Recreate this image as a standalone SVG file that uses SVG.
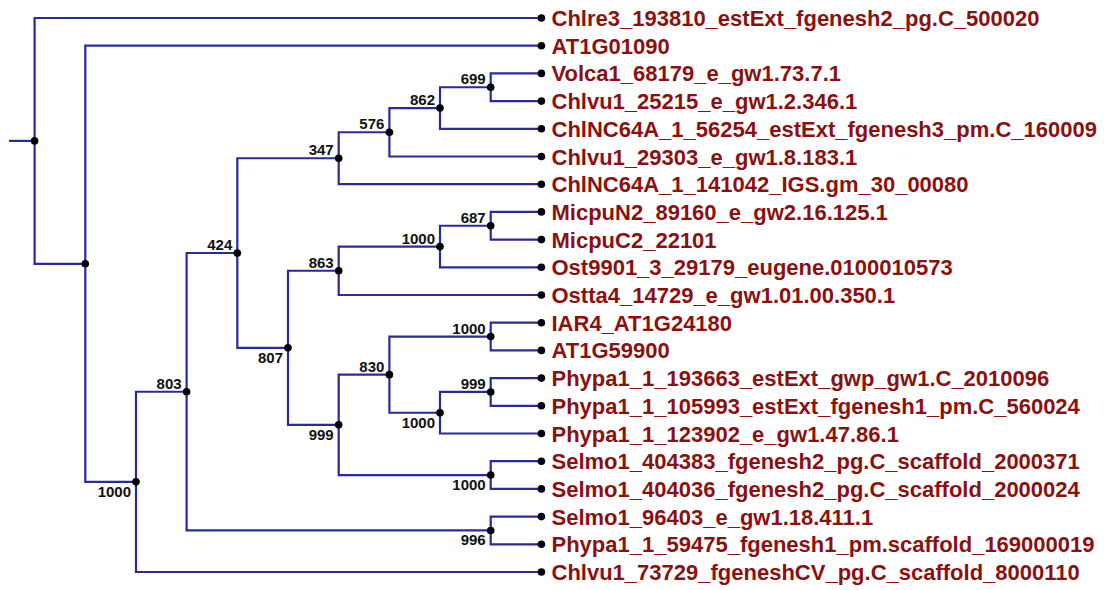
<svg xmlns="http://www.w3.org/2000/svg" width="1107" height="590" viewBox="0 0 1107 590">
<style>
.e{fill:none;stroke:#2a2a9c;stroke-width:2.2;stroke-linejoin:miter}
.d{fill:#000}
.lf{font-family:"Liberation Sans",Arial,sans-serif;font-weight:bold;font-size:22px;fill:#8b1111}
.bs{font-family:"Liberation Sans",Arial,sans-serif;font-weight:bold;font-size:15px;fill:#111;text-anchor:end}
</style>
<rect width="1107" height="590" fill="#fff"/>
<g id="connectors">
<path class="e" d="M9 140.89 H34.6"/>
<path class="e" d="M541.4 18 H34.6 V263.78 H85.3"/>
<path class="e" d="M541.4 45.7 H85.3 V481.87 H136"/>
<path class="e" d="M186.6 391.73 H136 V572 H541.4"/>
<path class="e" d="M237.3 253.02 H186.6 V530.45 H490.7"/>
<path class="e" d="M338.7 158.23 H237.3 V347.8 H288"/>
<path class="e" d="M389.4 132.26 H338.7 V184.2 H541.4"/>
<path class="e" d="M440 108.03 H389.4 V156.5 H541.4"/>
<path class="e" d="M490.7 87.25 H440 V128.8 H541.4"/>
<path class="e" d="M541.4 73.4 H490.7 V101.1 H541.4"/>
<path class="e" d="M338.7 270.76 H288 V424.84 H338.7"/>
<path class="e" d="M440 246.53 H338.7 V295 H541.4"/>
<path class="e" d="M490.7 225.75 H440 V267.3 H541.4"/>
<path class="e" d="M541.4 211.9 H490.7 V239.6 H541.4"/>
<path class="e" d="M389.4 374.64 H338.7 V475.05 H490.7"/>
<path class="e" d="M490.7 336.55 H389.4 V412.73 H440"/>
<path class="e" d="M541.4 322.7 H490.7 V350.4 H541.4"/>
<path class="e" d="M490.7 391.95 H440 V433.5 H541.4"/>
<path class="e" d="M541.4 378.1 H490.7 V405.8 H541.4"/>
<path class="e" d="M541.4 461.2 H490.7 V488.9 H541.4"/>
<path class="e" d="M541.4 516.6 H490.7 V544.3 H541.4"/>
</g>
<g id="root"><circle class="d" cx="34.6" cy="140.89" r="3.8"/></g>
<g id="nodeA"><circle class="d" cx="85.3" cy="263.78" r="3.8"/></g>
<g id="n1000e"><circle class="d" cx="136" cy="481.87" r="3.8"/><text class="bs" x="131" y="496.8">1000</text></g>
<g id="n803"><circle class="d" cx="186.6" cy="391.73" r="3.8"/><text class="bs" x="181.6" y="388.7">803</text></g>
<g id="n424"><circle class="d" cx="237.3" cy="253.02" r="3.8"/><text class="bs" x="232.3" y="250">424</text></g>
<g id="n807"><circle class="d" cx="288" cy="347.8" r="3.8"/><text class="bs" x="283" y="362.7">807</text></g>
<g id="n347"><circle class="d" cx="338.7" cy="158.23" r="3.8"/><text class="bs" x="333.7" y="155.2">347</text></g>
<g id="n576"><circle class="d" cx="389.4" cy="132.26" r="3.8"/><text class="bs" x="384.4" y="129.3">576</text></g>
<g id="n862"><circle class="d" cx="440" cy="108.03" r="3.8"/><text class="bs" x="435" y="105">862</text></g>
<g id="n699"><circle class="d" cx="490.7" cy="87.25" r="3.8"/><text class="bs" x="485.7" y="84.3">699</text></g>
<g id="n863"><circle class="d" cx="338.7" cy="270.76" r="3.8"/><text class="bs" x="333.7" y="267.8">863</text></g>
<g id="n1000a"><circle class="d" cx="440" cy="246.53" r="3.8"/><text class="bs" x="435" y="243.5">1000</text></g>
<g id="n687"><circle class="d" cx="490.7" cy="225.75" r="3.8"/><text class="bs" x="485.7" y="222.8">687</text></g>
<g id="n999b"><circle class="d" cx="338.7" cy="424.84" r="3.8"/><text class="bs" x="333.7" y="439.7">999</text></g>
<g id="n830"><circle class="d" cx="389.4" cy="374.64" r="3.8"/><text class="bs" x="384.4" y="371.6">830</text></g>
<g id="n1000b"><circle class="d" cx="490.7" cy="336.55" r="3.8"/><text class="bs" x="485.7" y="333.5">1000</text></g>
<g id="n1000c"><circle class="d" cx="440" cy="412.73" r="3.8"/><text class="bs" x="435" y="427.6">1000</text></g>
<g id="n999a"><circle class="d" cx="490.7" cy="391.95" r="3.8"/><text class="bs" x="485.7" y="389">999</text></g>
<g id="n1000d"><circle class="d" cx="490.7" cy="475.05" r="3.8"/><text class="bs" x="485.7" y="489.9">1000</text></g>
<g id="n996"><circle class="d" cx="490.7" cy="530.45" r="3.8"/><text class="bs" x="485.7" y="545.3">996</text></g>
<g id="leaf0"><circle class="d" cx="541.4" cy="18" r="3.8"/><text class="lf" x="551.5" y="26">Chlre3_193810_estExt_fgenesh2_pg.C_500020</text></g>
<g id="leaf1"><circle class="d" cx="541.4" cy="45.7" r="3.8"/><text class="lf" x="551.5" y="53.7">AT1G01090</text></g>
<g id="leaf2"><circle class="d" cx="541.4" cy="73.4" r="3.8"/><text class="lf" x="551.5" y="81.4">Volca1_68179_e_gw1.73.7.1</text></g>
<g id="leaf3"><circle class="d" cx="541.4" cy="101.1" r="3.8"/><text class="lf" x="551.5" y="109.1">Chlvu1_25215_e_gw1.2.346.1</text></g>
<g id="leaf4"><circle class="d" cx="541.4" cy="128.8" r="3.8"/><text class="lf" x="551.5" y="136.8">ChlNC64A_1_56254_estExt_fgenesh3_pm.C_160009</text></g>
<g id="leaf5"><circle class="d" cx="541.4" cy="156.5" r="3.8"/><text class="lf" x="551.5" y="164.5">Chlvu1_29303_e_gw1.8.183.1</text></g>
<g id="leaf6"><circle class="d" cx="541.4" cy="184.2" r="3.8"/><text class="lf" x="551.5" y="192.2">ChlNC64A_1_141042_IGS.gm_30_00080</text></g>
<g id="leaf7"><circle class="d" cx="541.4" cy="211.9" r="3.8"/><text class="lf" x="551.5" y="219.9">MicpuN2_89160_e_gw2.16.125.1</text></g>
<g id="leaf8"><circle class="d" cx="541.4" cy="239.6" r="3.8"/><text class="lf" x="551.5" y="247.6">MicpuC2_22101</text></g>
<g id="leaf9"><circle class="d" cx="541.4" cy="267.3" r="3.8"/><text class="lf" x="551.5" y="275.3">Ost9901_3_29179_eugene.0100010573</text></g>
<g id="leaf10"><circle class="d" cx="541.4" cy="295" r="3.8"/><text class="lf" x="551.5" y="303">Ostta4_14729_e_gw1.01.00.350.1</text></g>
<g id="leaf11"><circle class="d" cx="541.4" cy="322.7" r="3.8"/><text class="lf" x="551.5" y="330.7">IAR4_AT1G24180</text></g>
<g id="leaf12"><circle class="d" cx="541.4" cy="350.4" r="3.8"/><text class="lf" x="551.5" y="358.4">AT1G59900</text></g>
<g id="leaf13"><circle class="d" cx="541.4" cy="378.1" r="3.8"/><text class="lf" x="551.5" y="386.1">Phypa1_1_193663_estExt_gwp_gw1.C_2010096</text></g>
<g id="leaf14"><circle class="d" cx="541.4" cy="405.8" r="3.8"/><text class="lf" x="551.5" y="413.8">Phypa1_1_105993_estExt_fgenesh1_pm.C_560024</text></g>
<g id="leaf15"><circle class="d" cx="541.4" cy="433.5" r="3.8"/><text class="lf" x="551.5" y="441.5">Phypa1_1_123902_e_gw1.47.86.1</text></g>
<g id="leaf16"><circle class="d" cx="541.4" cy="461.2" r="3.8"/><text class="lf" x="551.5" y="469.2">Selmo1_404383_fgenesh2_pg.C_scaffold_2000371</text></g>
<g id="leaf17"><circle class="d" cx="541.4" cy="488.9" r="3.8"/><text class="lf" x="551.5" y="496.9">Selmo1_404036_fgenesh2_pg.C_scaffold_2000024</text></g>
<g id="leaf18"><circle class="d" cx="541.4" cy="516.6" r="3.8"/><text class="lf" x="551.5" y="524.6">Selmo1_96403_e_gw1.18.411.1</text></g>
<g id="leaf19"><circle class="d" cx="541.4" cy="544.3" r="3.8"/><text class="lf" x="551.5" y="552.3">Phypa1_1_59475_fgenesh1_pm.scaffold_169000019</text></g>
<g id="leaf20"><circle class="d" cx="541.4" cy="572" r="3.8"/><text class="lf" x="551.5" y="580">Chlvu1_73729_fgeneshCV_pg.C_scaffold_8000110</text></g>
</svg>
